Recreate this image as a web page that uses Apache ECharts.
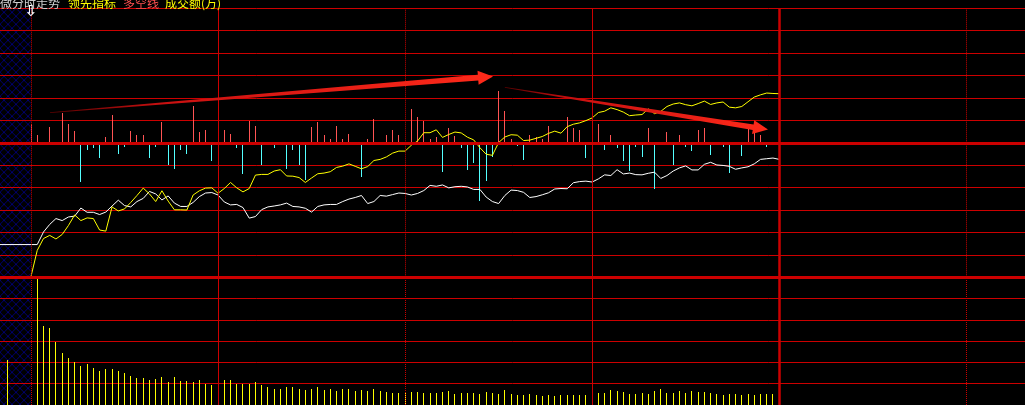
<!DOCTYPE html>
<html><head><meta charset="utf-8">
<script src="https://cdn.jsdelivr.net/npm/echarts@6/dist/echarts.min.js"></script>
<style>html,body{margin:0;padding:0;background:#000;overflow:hidden}#c{width:1025px;height:405px}</style>
</head><body><div id="c"></div>
<script>
// ---- data (2-minute slots, 0 = 09:30, 120 = 15:00) ----
const timeTicks = [0, 30, 60, 90, 120, 150];
const timeTickStyle = ['dotted', 'solid', 'dotted', 'solid', 'thick', 'dotted'];
const auctionSlot = -3.8;
const auctionPrice = -4.54;
const auctionVolume = 2130;

const priceLine = [-4.54,-4.54,-3.98,-3.64,-3.38,-3.47,-3.31,-3.27,-2.91,-3.10,-3.10,-3.20,-3.09,-2.82,-2.56,-2.80,-2.86,-2.62,-2.48,-2.17,
-2.28,-2.55,-2.37,-2.69,-2.84,-2.84,-2.66,-2.40,-2.24,-2.22,-2.33,-2.64,-2.77,-2.75,-2.89,-3.36,-3.29,-2.98,-2.86,-2.82,
-2.77,-2.69,-2.84,-2.86,-2.92,-3.09,-2.84,-2.77,-2.75,-2.75,-2.62,-2.51,-2.44,-2.35,-2.71,-2.62,-2.35,-2.38,-2.31,-2.24,
-2.26,-2.33,-2.26,-2.13,-1.90,-1.94,-1.88,-2.01,-1.96,-1.94,-1.97,-2.08,-2.08,-2.42,-2.62,-2.71,-2.35,-2.11,-2.13,-2.21,
-2.44,-2.40,-2.32,-2.23,-2.06,-2.04,-2.05,-1.78,-1.73,-1.71,-1.75,-1.61,-1.43,-1.46,-1.20,-1.39,-1.35,-1.42,-1.43,-1.36,
-1.31,-1.59,-1.46,-1.26,-1.12,-1.03,-1.21,-1.21,-0.96,-0.87,-0.99,-1.01,-1.05,-1.18,-1.12,-1.07,-0.94,-0.74,-0.71,-0.68,-0.74];

const leadLine = [-5.96,-4.80,-4.27,-4.13,-4.29,-4.09,-3.69,-3.22,-3.47,-3.35,-3.38,-3.89,-3.94,-2.86,-3.04,-2.95,-2.66,-2.35,-2.02,-2.28,
-2.62,-2.14,-2.60,-2.99,-2.99,-3.00,-2.33,-2.14,-2.02,-2.01,-2.25,-2.04,-1.77,-2.01,-2.19,-2.04,-1.44,-1.41,-1.41,-1.26,
-1.20,-1.48,-1.49,-1.55,-1.77,-1.57,-1.38,-1.35,-1.29,-1.10,-1.04,-0.94,-1.05,-1.16,-1.06,-0.79,-0.74,-0.63,-0.46,-0.37,
-0.37,-0.11,0.08,0.45,0.45,0.58,0.24,0.37,0.48,0.44,0.25,0.13,-0.22,-0.51,-0.56,0.01,0.26,0.36,0.34,0.10,
0.12,0.20,0.28,0.42,0.52,0.43,0.72,0.83,0.89,0.99,1.11,1.35,1.41,1.56,1.48,1.37,1.21,1.24,1.26,1.51,
1.30,1.40,1.62,1.73,1.78,1.70,1.65,1.75,1.86,1.71,1.78,1.82,1.59,1.56,1.62,1.83,2.04,2.14,2.22,2.20,2.19];

const powerBars = [0.86,0.37,-0.08,0.70,-0.11,1.32,0.82,0.52,-1.76,-0.30,-0.25,-0.70,0.25,1.23,-0.48,-0.20,0.52,0.37,0.33,-0.70,
-0.20,0.92,-0.97,-1.15,-0.34,-0.52,1.63,0.47,0.56,-0.83,-0.79,0.56,0.41,-0.25,-1.41,0.96,0.74,-0.97,-0.11,-0.25,
0,-1.19,-0.33,-0.97,-1.68,0.70,0.92,0.33,0.19,0.74,0.15,0.41,-0.04,-1.53,0.15,1.04,-0.04,0.34,0.55,0.37,
-0.11,1.53,1.14,0.99,0.19,0.27,-1.31,0.67,0.29,-0.25,-1.22,-0.89,-2.60,-1.71,-0.62,2.33,1.44,0.19,-0.15,-0.78,
0.34,0.27,0.19,0.74,0.05,0,1.14,0.64,0.55,-0.70,0.96,0.82,-0.30,0.37,-0.25,-0.82,-1.27,-0.20,-0.64,0.67,
-2.05,-0.12,0.47,-1.00,0.34,-0.20,-0.37,0.55,0.64,-0.55,-0.08,-0.20,-1.34,-0.08,-0.60,0.64,0.64,0.37,-0.20,0,0];

const volume = [null,6000,3690,3600,2980,2440,2220,2040,1820,1910,1730,1590,1680,1680,1590,1500,1370,1280,1280,1190,
1240,1330,1100,1330,1150,1150,1100,1190,1010,920,1010,1190,1190,970,970,1010,1100,920,830,750,
750,830,830,750,700,750,830,700,750,660,750,750,660,700,660,750,660,610,570,570,
620,610,610,570,570,570,610,660,520,570,570,570,520,610,570,520,700,520,480,480,
520,480,430,480,430,480,480,480,480,480,570,570,570,700,660,610,520,520,570,520,
660,750,570,570,660,570,660,610,610,570,520,480,520,520,480,520,480,520,520,520,570];

const trendArrows = [[3.05, 1.35, 74.1, 2.96], [76.0, 2.47, 118.2, 0.59]];

const titleParts = [
  {text: '微分时走势', x: 0, color: '#d0d0d0'},
  {text: '领先指标', x: 68, color: '#ffff00'},
  {text: '多空线', x: 123, color: '#ff5050'},
  {text: '成交额(万)', x: 165, color: '#ffff00'}
];

// ---- style ----
const RED = '#cc0000';
const X_MIN = -31 / 6.235, X_MAX = (1025 - 31) / 6.235;

function hatch() {
  const c = document.createElement('canvas');
  c.width = 8; c.height = 8;
  const g = c.getContext('2d');
  g.fillStyle = '#000000'; g.fillRect(0, 0, 8, 8);
  g.fillStyle = '#00006e';
  for (let k = 0; k < 8; k++) { g.fillRect(k, k, 1, 1); g.fillRect(7 - k, k, 1, 1); }
  return c;
}

const vLines = timeTicks.map((t, i) => {
  const s = timeTickStyle[i];
  return {xAxis: t, lineStyle: {color: RED, width: s === 'thick' ? 2.5 : 1, type: s === 'dotted' ? [1, 1] : 'solid'}};
});

function stickRenderer(colorFn) {
  return function (params, api) {
    const x = api.value(0), v = api.value(1);
    if (v == null || isNaN(v) || v === 0) return null;
    const base = api.coord([x, 0]);
    const top = api.coord([x, v]);
    const px = Math.round(base[0] - 0.5);
    const y0 = Math.min(base[1], top[1]), y1 = Math.max(base[1], top[1]);
    return {type: 'rect', shape: {x: px, y: Math.round(y0), width: 1, height: Math.max(1, Math.round(y1) - Math.round(y0))},
      style: {fill: colorFn(v)}};
  };
}

const chart = echarts.init(document.getElementById('c'), null, {renderer: 'canvas'});
const option = {
  backgroundColor: '#000',
  animation: false,
  grid: [
    {left: 0, right: 0, top: 8.3, height: 269},
    {left: 0, right: 0, top: 277.3, height: 134.4}
  ],
  xAxis: [0, 1].map(g => ({type: 'value', gridIndex: g, min: X_MIN, max: X_MAX, show: false, splitLine: {show: false}})),
  yAxis: [
    {type: 'value', gridIndex: 0, min: -6, max: 6, interval: 1, axisLabel: {show: false}, axisLine: {show: false}, axisTick: {show: false},
     splitLine: {show: true, lineStyle: {color: RED, width: 1}}},
    {type: 'value', gridIndex: 1, min: 0, max: 6000, interval: 1000, axisLabel: {show: false}, axisLine: {show: false}, axisTick: {show: false},
     splitLine: {show: true, lineStyle: {color: RED, width: 1}}}
  ],
  graphic: [
    {type: 'rect', id: 'hatch', left: 0, top: 8.3, z: -10, silent: true, shape: {x: 0, y: 0, width: 31, height: 400},
     style: {fill: {image: hatch(), repeat: 'repeat'}}},
    {type: 'text', id: 'icon', x: 31, y: 12, z: 100, style: {text: '⇩', fill: '#ffffff', font: 'bold 15px "DejaVu Sans"', align: 'center', verticalAlign: 'middle'}}
  ].concat(titleParts.map((p, i) => ({
    type: 'text', id: 't' + i, x: p.x, y: 9, z: 100,
    style: {text: p.text, fill: p.color, font: '12px "Noto Sans CJK SC"', align: 'left', verticalAlign: 'bottom'}
  }))),
  series: [
    {type: 'line', xAxisIndex: 0, yAxisIndex: 0, data: [], z: 1, silent: true,
     markLine: {silent: true, symbol: 'none', label: {show: false}, animation: false,
       data: vLines.concat([{yAxis: 0, lineStyle: {color: RED, width: 3, type: 'solid'}},
                            {yAxis: -6, lineStyle: {color: RED, width: 3, type: 'solid'}}])}},
    {type: 'line', xAxisIndex: 1, yAxisIndex: 1, data: [], z: 1, silent: true,
     markLine: {silent: true, symbol: 'none', label: {show: false}, animation: false, data: vLines}},
    {name: '多空线', type: 'custom', xAxisIndex: 0, yAxisIndex: 0, z: 3, silent: true,
     encode: {x: 0, y: 1},
     data: powerBars.map((v, i) => [i, v]),
     renderItem: stickRenderer(v => v >= 0 ? '#ff5454' : '#54ffff')},
    {name: '成交额', type: 'custom', xAxisIndex: 1, yAxisIndex: 1, z: 3, silent: true,
     encode: {x: 0, y: 1},
     data: [[auctionSlot, auctionVolume]].concat(volume.map((v, i) => [i, v == null ? 0 : v])),
     renderItem: stickRenderer(() => '#ffff00')},
    {name: '价格', type: 'line', xAxisIndex: 0, yAxisIndex: 0, z: 4, showSymbol: false, symbol: 'none',
     data: [[X_MIN, auctionPrice]].concat(priceLine.map((v, i) => [i, v])),
     lineStyle: {color: '#ffffff', width: 1}},
    {name: '领先指标', type: 'line', xAxisIndex: 0, yAxisIndex: 0, z: 4, showSymbol: false, symbol: 'none',
     data: leadLine.map((v, i) => [i, v]),
     lineStyle: {color: '#ffff00', width: 1}},
    {name: '趋势箭头', type: 'custom', xAxisIndex: 0, yAxisIndex: 0, z: 6, clip: false, silent: true,
     encode: {x: [0, 2], y: [1, 3]},
     data: trendArrows,
     renderItem: function (params, api) {
       const t = api.coord([api.value(0), api.value(1)]);
       const p = api.coord([api.value(2), api.value(3)]);
       const dx = p[0] - t[0], dy = p[1] - t[1], len = Math.hypot(dx, dy);
       const ux = dx / len, uy = dy / len, nx = -uy, ny = ux;
       const L = 15, H = 7, w0 = 0.4, w1 = 2.8;
       const b = [p[0] - ux * L, p[1] - uy * L];
       const pts = [
         [t[0] + nx * w0, t[1] + ny * w0], [b[0] + nx * w1, b[1] + ny * w1], [b[0] + nx * H, b[1] + ny * H], p,
         [b[0] - nx * H, b[1] - ny * H], [b[0] - nx * w1, b[1] - ny * w1], [t[0] - nx * w0, t[1] - ny * w0]
       ];
       return {type: 'polygon', shape: {points: pts},
         style: {fill: new echarts.graphic.LinearGradient(t[0], t[1], p[0], p[1], [
           {offset: 0, color: 'rgba(90,0,0,1)'}, {offset: 0.25, color: '#c81010'}, {offset: 1, color: '#ff2a1a'}], true)}};
     }}
  ]
};
chart.setOption(option);
</script></body></html>
